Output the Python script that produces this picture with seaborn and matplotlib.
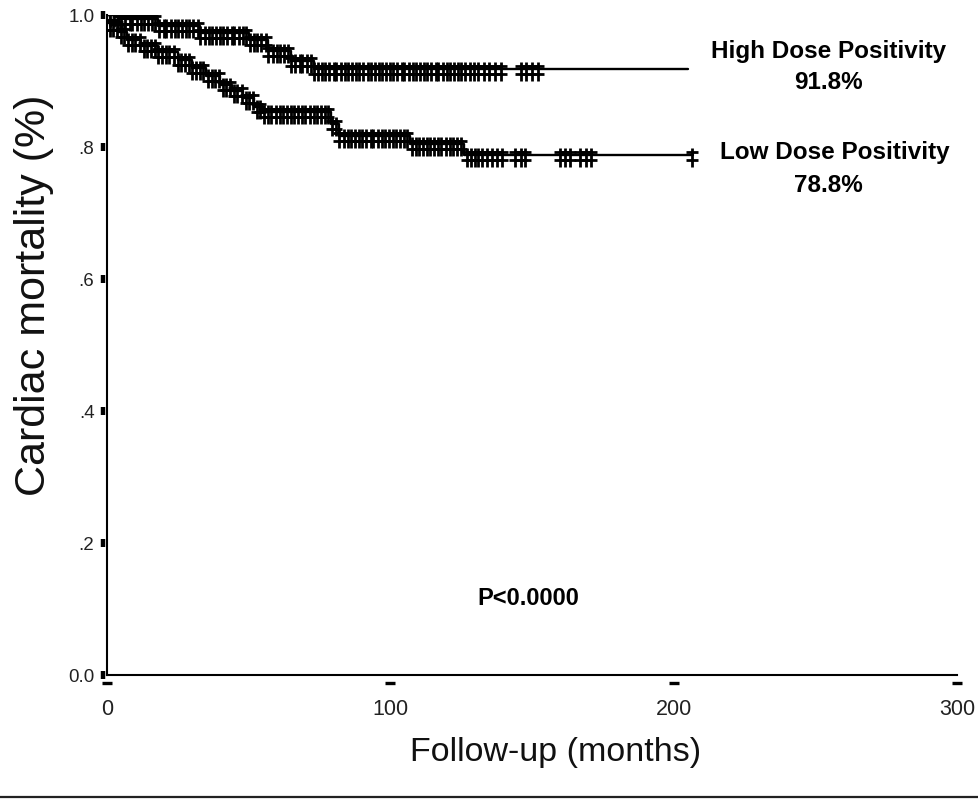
import numpy as np
import pandas as pd
import matplotlib
matplotlib.use("Agg")
import matplotlib.pyplot as plt
from matplotlib.path import Path
from matplotlib.transforms import blended_transform_factory
import seaborn as sns

# Kaplan-Meier step curves: event times (months) and survival after each step
high_months = [0, 4, 18, 33, 50, 57, 65, 73, 205]
high_surv = [1.0, 0.994, 0.983, 0.973, 0.962, 0.945, 0.931, 0.918, 0.918]

low_months = [0, 1, 4, 7, 12, 18, 25, 30, 35, 40, 44, 48, 52, 55, 79, 82, 107, 126, 207]
low_surv = [1.0, 0.985, 0.974, 0.962, 0.953, 0.944, 0.932, 0.920, 0.908, 0.894,
            0.885, 0.874, 0.861, 0.853, 0.835, 0.817, 0.805, 0.788, 0.788]

# Censored follow-up times (months)
high_censored = [1, 2.5, 4, 5, 6.5, 8, 9, 10.5, 12, 13, 14.5, 16, 17, 18.5, 20, 21,
                 22.5, 24, 25, 26.5, 28, 29, 30.5, 32, 33, 34.5, 36, 37, 38.5, 40,
                 41, 42.5, 44, 45, 46.5, 48, 49, 50.5, 52, 53, 54.5, 56, 57, 58.5,
                 60, 61, 62.5, 64, 65, 66.5, 68, 69, 70.5, 72, 73, 74.5, 76, 77,
                 78.5, 80, 81, 82.5, 84, 85, 86.5, 88, 89, 90.5, 92, 93, 94.5, 96,
                 97, 98.5, 100, 101, 102.5, 104, 105, 106.5, 108, 109, 110.5, 112,
                 113, 114.5, 116, 117, 118.5, 120, 121, 122.5, 124, 125, 126.5, 128,
                 129.5, 131, 133, 135, 137, 139, 146, 148, 150, 152]
low_censored = [1, 2, 3.5, 5, 6, 7.5, 9, 10, 11.5, 13, 14, 15.5, 17, 18, 19.5, 21,
                22, 23.5, 25, 26, 27.5, 29, 30, 31.5, 33, 34, 35.5, 37, 38, 39.5,
                41, 42, 43.5, 45, 46, 47.5, 49, 50, 51.5, 53, 54, 55.5, 57, 58,
                59.5, 61, 62, 63.5, 65, 66, 67.5, 69, 70, 71.5, 73, 74, 75.5, 77,
                78, 79.5, 81, 82, 83.5, 85, 86, 87.5, 89, 90, 91.5, 93, 94, 95.5,
                97, 98, 99.5, 101, 102, 103.5, 105, 106, 107.5, 109, 110, 111.5,
                113, 114, 115.5, 117, 118, 119.5, 121, 122, 123.5, 125, 127, 128.5,
                130, 131, 132.5, 134, 136, 137.5, 139.5, 144, 146, 147.5, 160,
                161.5, 163.5, 167, 169, 171, 206.5]

groups = ["High Dose Positivity", "Low Dose Positivity"]
x_ticks = [0, 100, 200, 300]
x_ticklabels = ["0", "100", "200", "300"]
y_ticks = [0.0, 0.2, 0.4, 0.6, 0.8, 1.0]
y_ticklabels = ["0.0", ".2", ".4", ".6", ".8", "1.0"]
p_value_text = "P<0.0000"

sns.set_theme(style="white")
plt.rcParams["font.family"] = ["Liberation Sans", "DejaVu Sans"]
plt.rcParams["text.color"] = "black"

fig = plt.figure(figsize=(9.79, 8.0), dpi=100)
ax = fig.add_axes([107 / 979, 1 - 675 / 800, 850 / 979, 660 / 800])

curves = pd.concat([
    pd.DataFrame({"month": high_months, "surv": high_surv, "group": groups[0]}),
    pd.DataFrame({"month": low_months, "surv": low_surv, "group": groups[1]}),
])
sns.lineplot(data=curves, x="month", y="surv", hue="group",
             palette=["black", "black"], estimator=None, sort=False,
             drawstyle="steps-post", linewidth=1.7, legend=False, ax=ax)


def step_value(t, months, surv):
    idx = np.searchsorted(months, t, side="right") - 1
    return np.asarray(surv)[idx]


# censor tick: vertical stroke with two cross bars, hanging below the curve
censor_marker = Path(
    [(0, 0.6), (0, -1.0), (-0.48, 0.25), (0.48, 0.25), (-0.48, -0.45), (0.48, -0.45)],
    [Path.MOVETO, Path.LINETO, Path.MOVETO, Path.LINETO, Path.MOVETO, Path.LINETO],
)
for cens, months, surv in [(high_censored, high_months, high_surv),
                           (low_censored, low_months, low_surv)]:
    cens = np.asarray(cens)
    ax.plot(cens, step_value(cens, months, surv), linestyle="none",
            marker=censor_marker, markersize=17, markeredgewidth=2.0,
            markeredgecolor="black", markerfacecolor="none")

ax.set_xlim(0, 300)
ax.set_ylim(0, 1)
ax.set_xticks(x_ticks)
ax.set_xticklabels(x_ticklabels)
ax.set_yticks(y_ticks)
ax.set_yticklabels(y_ticklabels)
ax.tick_params(axis="x", length=0, pad=17, labelsize=15.5, colors="#222222")
ax.tick_params(axis="y", length=0, pad=9, labelsize=13.5, colors="#222222")
for side in ["top", "right"]:
    ax.spines[side].set_visible(False)
for side in ["left", "bottom"]:
    ax.spines[side].set_color("black")
    ax.spines[side].set_linewidth(1.5)

# detached block tick marks
ytr = blended_transform_factory(ax.transAxes, ax.transData)
ax.plot([-0.0047] * len(y_ticks), y_ticks, transform=ytr, linestyle="none",
        marker="|", markersize=6, markeredgewidth=3.2, color="black", clip_on=False)
xtr = blended_transform_factory(ax.transData, ax.transAxes)
ax.plot(x_ticks, [-0.012] * len(x_ticks), transform=xtr, linestyle="none",
        marker="_", markersize=7, markeredgewidth=2.4, color="black", clip_on=False)

ax.set_xlabel("Follow-up (months)", fontsize=24.5, color="#111111")
ax.xaxis.set_label_coords(0.528, -0.117)
ax.xaxis.label.set_verticalalignment("center")
ax.set_ylabel("Cardiac mortality (%)", fontsize=31, color="#111111")
ax.yaxis.set_label_coords(-0.086, 0.576)
ax.yaxis.label.set_verticalalignment("center")

# curve annotations with final survival
final_high = high_surv[-1]
final_low = low_surv[-1]
ax.text(254.8, 0.944, groups[0], ha="center", va="center", fontsize=17.5,
        fontweight="bold", clip_on=False)
ax.text(254.8, 0.897, f"{final_high * 100:.1f}%", ha="center", va="center",
        fontsize=17.5, fontweight="bold", clip_on=False)
ax.text(256.9, 0.792, groups[1], ha="center", va="center", fontsize=17.5,
        fontweight="bold", clip_on=False)
ax.text(254.5, 0.741, f"{final_low * 100:.1f}%", ha="center", va="center",
        fontsize=17.5, fontweight="bold", clip_on=False)
ax.text(148.6, 0.116, p_value_text, ha="center", va="center", fontsize=17,
        fontweight="bold")

# rule along the bottom edge
fig.add_artist(plt.Line2D([0, 1], [1 - 797 / 800] * 2, color="#222222",
                          linewidth=1.6, transform=fig.transFigure))

fig.savefig("out.png", dpi=100, facecolor="white")
